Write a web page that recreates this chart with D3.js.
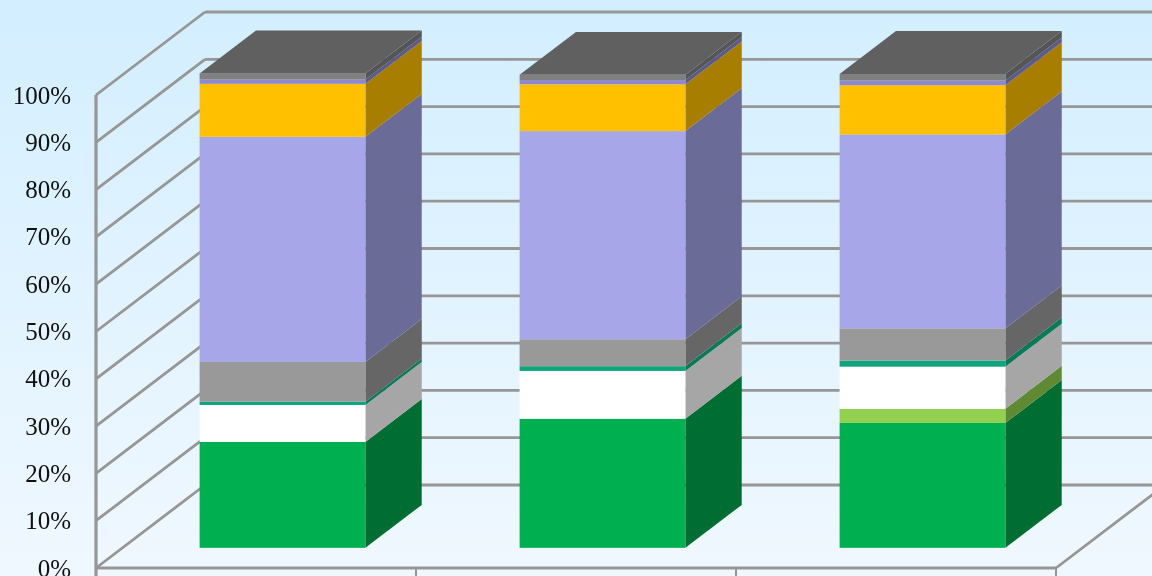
<!DOCTYPE html>
<html>
<head>
<meta charset="utf-8">
<script src="https://d3js.org/d3.v7.min.js"></script>
<style>
  html, body { margin: 0; padding: 0; background: #f0f8ff; overflow: hidden; }
  svg { display: block; filter: blur(0.45px); }
</style>
</head>
<body>
<div id="chart"></div>
<script>
// values, percent of each column
var categories = ["Column 1", "Column 2", "Column 3"]
var seriesNames = ["green", "lightgreen", "white", "teal", "gray", "purple", "yellow", "violet", "darkgray"]
var green = [22.4, 27.3, 26.4]
var lightgreen = [0, 0, 3.0]
var white = [7.8, 10.1, 8.9]
var teal = [0.7, 1.0, 1.3]
var gray = [8.4, 5.7, 6.8]
var purple = [47.6, 44.0, 41.0]
var yellow = [11.2, 9.9, 10.4]
var violet = [0.9, 0.9, 1.0]
var darkgray = [1.3, 1.1, 1.4]
var yTicks = [0, 10, 20, 30, 40, 50, 60, 70, 80, 90, 100]

var frontColours = ["#00b050", "#92d050", "#ffffff", "#0fa57c", "#999999", "#a6a6e8", "#ffc000", "#9088cc", "#808080"]
var sideColours = ["#006e32", "#5f8a33", "#a6a6a6", "#087a55", "#666666", "#6b6b98", "#a87e00", "#5c5a88", "#555555"]
var topColour = "#606060"
var lineColour = "#969696"

var width = 1152
var height = 576

// fake 3d: full depth of the plot box, and where the columns sit in it
var depthX = 109
var depthY = -83
var barFront = 0.243
var barBack = 0.76

var rows = categories.map(function (c, i) {
  return {
    category: c, green: green[i], lightgreen: lightgreen[i], white: white[i], teal: teal[i],
    gray: gray[i], purple: purple[i], yellow: yellow[i], violet: violet[i], darkgray: darkgray[i]
  }
})

var stacked = d3.stack().keys(seriesNames)(rows)

var x = d3.scaleBand().domain(categories).range([96, 1056]).paddingInner(0.482).paddingOuter(0.241)
var y = d3.scaleLinear().domain([0, 100]).range([568, 95])
var xEdges = d3.scaleLinear().domain([0, categories.length]).range([96, 1056])

var svg = d3.select("#chart").append("svg")
  .attr("width", width)
  .attr("height", height)

var grad = svg.append("defs").append("linearGradient")
  .attr("id", "bg")
  .attr("x1", 0).attr("y1", 0).attr("x2", 0).attr("y2", 1)
grad.append("stop").attr("offset", "0%").attr("stop-color", "#d2eeff")
grad.append("stop").attr("offset", "100%").attr("stop-color", "#f0f8ff")

svg.append("rect").attr("x", -2).attr("y", -2).attr("width", width + 4).attr("height", height + 4).attr("fill", "url(#bg)")

// back wall gridlines
svg.selectAll("line.back")
  .data(yTicks)
  .enter().append("line")
  .attr("class", "back")
  .attr("x1", 96 + depthX)
  .attr("x2", width + 2)
  .attr("y1", function (d) { return y(d) + depthY })
  .attr("y2", function (d) { return y(d) + depthY })
  .attr("stroke", lineColour)
  .attr("stroke-width", 2.8)

// left wall gridlines
svg.selectAll("line.wall")
  .data(yTicks)
  .enter().append("line")
  .attr("class", "wall")
  .attr("x1", 96)
  .attr("x2", 96 + depthX)
  .attr("y1", function (d) { return y(d) })
  .attr("y2", function (d) { return y(d) + depthY })
  .attr("stroke", lineColour)
  .attr("stroke-width", 2.8)

// floor edge on the right
svg.append("line")
  .attr("x1", 1056).attr("y1", y(0))
  .attr("x2", 1056 + depthX).attr("y2", y(0) + depthY)
  .attr("stroke", lineColour)
  .attr("stroke-width", 2.8)

// axes
var yAxis = svg.append("g")
  .attr("transform", "translate(96,0)")
  .call(d3.axisLeft(y).tickValues(yTicks).tickFormat(function (d) { return d + "%" }).tickSize(0).tickPadding(25))
yAxis.select(".domain").remove()
yAxis.selectAll("text")
  .attr("font-family", "'Liberation Serif', serif")
  .attr("font-size", 25)
  .attr("fill", "#111111")

svg.append("line")
  .attr("x1", 96).attr("x2", 96)
  .attr("y1", y(100)).attr("y2", height + 2)
  .attr("stroke", lineColour)
  .attr("stroke-width", 3.2)
svg.append("line")
  .attr("x1", 95).attr("x2", 1056)
  .attr("y1", y(0)).attr("y2", y(0))
  .attr("stroke", lineColour)
  .attr("stroke-width", 3.2)
svg.selectAll("line.edge")
  .data(d3.range(categories.length + 1))
  .enter().append("line")
  .attr("class", "edge")
  .attr("x1", function (d) { return xEdges(d) })
  .attr("x2", function (d) { return xEdges(d) })
  .attr("y1", y(0))
  .attr("y2", height + 2)
  .attr("stroke", lineColour)
  .attr("stroke-width", 2)

// columns
function pts(list) {
  return list.map(function (p) { return p.join(",") }).join(" ")
}
function frontX(d) { return x(d.data.category) + barFront * depthX }
function frontY(v) { return y(v) + barFront * depthY }
var sideDx = (barBack - barFront) * depthX
var sideDy = (barBack - barFront) * depthY

var layers = svg.selectAll("g.layer")
  .data(stacked)
  .enter().append("g")
  .attr("class", "layer")

layers.selectAll("polygon.side")
  .data(function (s) { return s.filter(function (d) { return d[1] > d[0] }) })
  .enter().append("polygon")
  .attr("class", "side")
  .attr("fill", function () { return sideColours[this.parentNode.__data__.index] })
  .attr("points", function (d) {
    var r = frontX(d) + x.bandwidth()
    return pts([
      [r, frontY(d[0])], [r + sideDx, frontY(d[0]) + sideDy],
      [r + sideDx, frontY(d[1]) + sideDy], [r, frontY(d[1])]
    ])
  })

layers.selectAll("rect.front")
  .data(function (s) { return s.filter(function (d) { return d[1] > d[0] }) })
  .enter().append("rect")
  .attr("class", "front")
  .attr("fill", function () { return frontColours[this.parentNode.__data__.index] })
  .attr("x", frontX)
  .attr("width", x.bandwidth())
  .attr("y", function (d) { return frontY(d[1]) })
  .attr("height", function (d) { return frontY(d[0]) - frontY(d[1]) })

// lid of each column
svg.selectAll("polygon.lid")
  .data(stacked[stacked.length - 1])
  .enter().append("polygon")
  .attr("class", "lid")
  .attr("fill", topColour)
  .attr("points", function (d) {
    var l = frontX(d), r = l + x.bandwidth(), t = frontY(d[1])
    return pts([[l, t], [r, t], [r + sideDx, t + sideDy], [l + sideDx, t + sideDy]])
  })
</script>
</body>
</html>
